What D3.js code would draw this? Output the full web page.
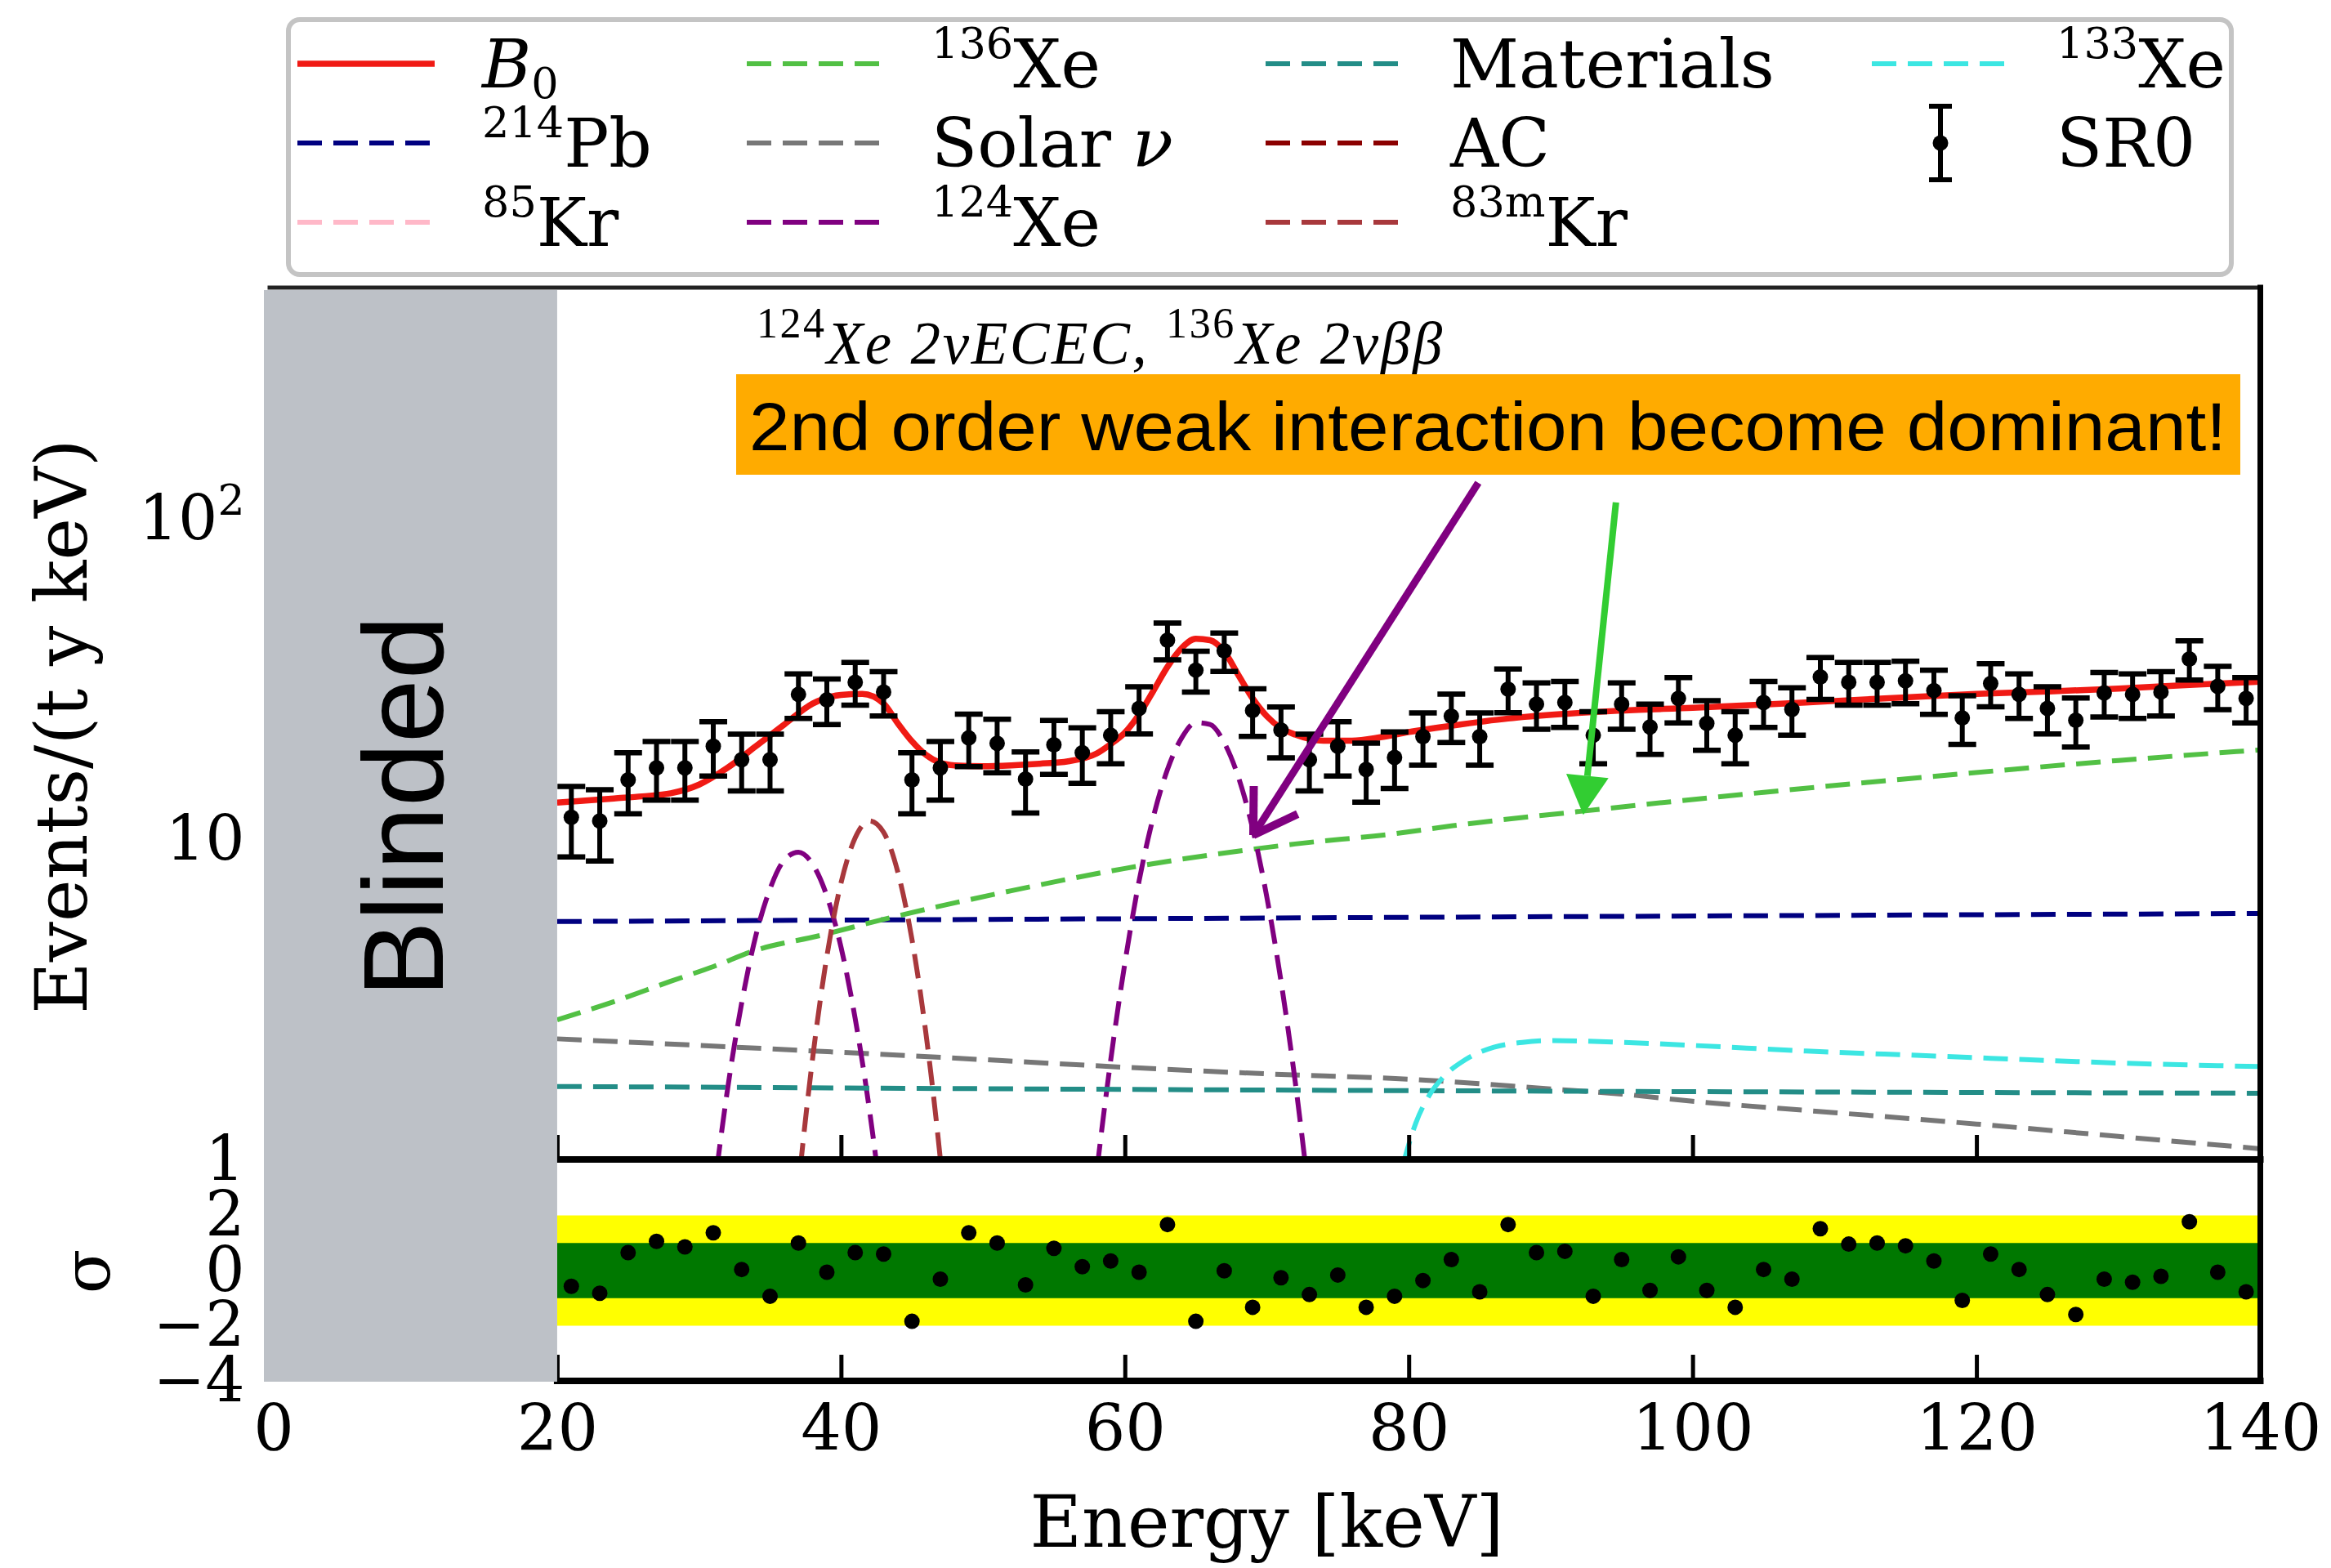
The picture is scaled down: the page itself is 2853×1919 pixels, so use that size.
<!DOCTYPE html>
<html>
<head>
<meta charset="utf-8">
<script src="https://cdnjs.cloudflare.com/ajax/libs/d3/7.8.5/d3.min.js"></script>
<style>
  body { margin: 0; background: #fff; }
  text { font-family: "DejaVu Serif", serif; fill: #000; }
</style>
</head>
<body>
<div id="chart"></div>
<script>
const width = 2853;
const height = 1919;

// SR0 spectrum, 2 keV bins
const energy = [21, 23, 25, 27, 29, 31, 33, 35, 37, 39, 41, 43, 45, 47, 49, 51, 53, 55, 57, 59,
  61, 63, 65, 67, 69, 71, 73, 75, 77, 79, 81, 83, 85, 87, 89, 91, 93, 95, 97, 99,
  101, 103, 105, 107, 109, 111, 113, 115, 117, 119, 121, 123, 125, 127, 129, 131, 133, 135, 137, 139];
const rate = [11.7, 11.4, 15.3, 16.7, 16.7, 19.5, 17.7, 17.7, 28.3, 27.2, 30.9, 28.8, 15.3, 16.7, 20.7, 19.9, 15.4, 19.7, 18.6, 21.1,
  25.6, 41.8, 33.7, 38.7, 25.2, 21.9, 17.7, 19.5, 16.5, 18.0, 20.9, 24.2, 20.9, 29.4, 26.4, 26.7, 21.1, 26.4, 22.4, 27.5,
  23.0, 21.1, 26.7, 25.4, 32.1, 30.9, 30.9, 31.2, 29.1, 23.9, 30.6, 28.3, 25.6, 23.5, 28.6, 28.3, 28.8, 36.5, 30.0, 27.5];
const rateErr = [2.9, 2.86, 3.3, 3.47, 3.47, 3.75, 3.57, 3.57, 4.5, 4.4, 4.7, 4.55, 3.3, 3.47, 3.86, 3.79, 3.33, 3.77, 3.66, 3.9,
  4.3, 5.5, 4.9, 5.3, 4.26, 3.97, 3.57, 3.75, 3.45, 3.6, 3.88, 4.17, 3.88, 4.6, 4.36, 4.38, 3.9, 4.36, 4.0, 4.45,
  4.07, 3.9, 4.38, 4.28, 4.8, 4.7, 4.7, 4.74, 4.58, 4.15, 4.7, 4.5, 4.3, 4.1, 4.54, 4.5, 4.55, 5.1, 4.65, 4.45];
const residual = [-0.57, -0.82, 0.65, 1.06, 0.86, 1.37, 0.04, -0.93, 1.0, -0.06, 0.65, 0.6, -1.84, -0.31, 1.37, 1.0, -0.52, 0.81, 0.14, 0.35,
  -0.06, 1.67, -1.84, -0.01, -1.33, -0.26, -0.87, -0.16, -1.33, -0.93, -0.36, 0.4, -0.77, 1.67, 0.65, 0.7, -0.93, 0.4, -0.72, 0.5,
  -0.72, -1.33, 0.04, -0.31, 1.52, 0.96, 1.0, 0.9, 0.35, -1.08, 0.6, 0.04, -0.87, -1.59, -0.31, -0.42, -0.21, 1.77, -0.06, -0.77];

// model curves [energy keV, rate]
const b0 = [[20, 13.0], [22, 13.2], [24, 13.4], [26, 13.6], [28, 13.9], [30, 14.8], [32, 16.7], [34, 19.5], [36, 22.8], [38, 26.5],
  [40, 28.2], [41.5, 28.4], [43, 26.5], [44, 23.0], [45, 20.2], [46, 18.3], [47, 17.3], [48, 17.0], [50, 16.9], [52, 17.0],
  [54, 17.2], [56, 17.5], [58, 18.5], [59, 19.8], [60, 21.5], [61, 24.5], [62, 29], [63, 34.5], [64, 39.5], [65, 42.2],
  [66, 41.8], [67, 38.5], [68, 32.5], [69, 27.5], [70, 24.2], [71, 22.2], [72, 21.2], [74, 20.3], [76, 20.3], [78, 20.8],
  [80, 21.6], [83, 22.6], [87, 23.8], [91, 24.6], [95, 25.2], [100, 25.7], [105, 26.3], [110, 27.0], [115, 27.7], [120, 28.4],
  [125, 28.9], [130, 29.5], [135, 30.3], [140, 31.0]];
const pb214 = [[20, 5.53], [80, 5.7], [140, 5.86]];
const kr85 = [[20, 0.7], [140, 0.72]];
const xe136 = [[20, 2.73], [24, 3.11], [28, 3.6], [31, 4.0], [34, 4.5], [38.5, 5.0], [43, 5.62], [52, 6.9], [60, 8.1], [72, 9.66],
  [79, 10.4], [83, 11.0], [92, 12.2], [105, 14.0], [119, 16.0], [130, 17.6], [140, 19.0]];
const solarNu = [[20, 2.38], [30, 2.27], [40, 2.16], [50, 2.05], [60, 1.94], [70, 1.85], [80, 1.78], [90, 1.66], [95, 1.6],
  [100, 1.52], [110, 1.4], [120, 1.29], [130, 1.18], [140, 1.08]];
const xe124 = [[29, 0.12], [30, 0.31], [31, 0.76], [32, 1.65], [33, 3.08], [34, 5.0], [35, 7.0], [36, 8.6], [37, 9.1], [38, 8.35],
  [39, 6.65], [40, 4.6], [41, 2.75], [42, 1.43], [43, 0.64], [44, 0.25],
  [56, 0.12], [57, 0.35], [58, 0.9], [59, 2.04], [60, 4.1], [61, 7.4], [62, 11.7], [63, 16.5], [64, 20.7], [65, 23.1],
  [66, 22.8], [67, 20.0], [68, 15.6], [69, 10.8], [70, 6.6], [71, 3.6], [72, 1.75], [73, 0.75], [74, 0.29]];
const materials = [[20, 1.69], [80, 1.64], [140, 1.61]];
const ac = [[20, 0.55], [140, 0.5]];
const kr83m = [[36, 0.26], [37, 0.82], [38, 2.07], [39, 4.3], [40, 7.3], [41, 10.1], [42, 11.4], [43, 10.5], [44, 7.9],
  [45, 4.86], [46, 2.44], [47, 1.0], [48, 0.33]];
const xe133 = [[79, 0.75], [79.7, 1.0], [80.5, 1.3], [81.5, 1.6], [82.5, 1.82], [84, 2.05], [86, 2.24], [88, 2.32], [90, 2.35],
  [95, 2.32], [100, 2.27], [108, 2.18], [115, 2.12], [121, 2.07], [130, 2.0], [140, 1.95]];

const xTicks = [0, 20, 40, 60, 80, 100, 120, 140];

const series = [
  { key: "b0", data: b0, color: "#f01a14", dash: null, label: [["B", "it"], ["0", "sub"]] },
  { key: "pb214", data: pb214, color: "#000080", dash: "30,14", label: [["214", "sup"], ["Pb"]] },
  { key: "kr85", data: kr85, color: "#ffb8c8", dash: "30,14", label: [["85", "sup"], ["Kr"]] },
  { key: "xe136", data: xe136, color: "#52c044", dash: "30,14", label: [["136", "sup"], ["Xe"]] },
  { key: "solar", data: solarNu, color: "#777777", dash: "30,14", label: [["Solar "], ["ν", "it"]] },
  { key: "xe124", data: xe124, color: "#800080", dash: "30,14", label: [["124", "sup"], ["Xe"]] },
  { key: "materials", data: materials, color: "#238d87", dash: "30,14", label: [["Materials"]] },
  { key: "ac", data: ac, color: "#8b0000", dash: "30,14", label: [["AC"]] },
  { key: "kr83m", data: kr83m, color: "#a8383c", dash: "30,14", label: [["83m", "sup"], ["Kr"]] },
  { key: "xe133", data: xe133, color: "#3ce6e2", dash: "30,14", label: [["133", "sup"], ["Xe"]] }
];

const svg = d3.select("#chart").append("svg")
  .attr("width", width)
  .attr("height", height)
  .attr("viewBox", `0 0 ${width} ${height}`);

const x = d3.scaleLinear().domain([0, 140]).range([334.5, 2766.5]);
const y = d3.scaleLog().domain([1, 527]).range([1419, 352]);
const yr = d3.scaleLinear().domain([-4, 4]).range([1690, 1420]);

const plotLeft = x(20), plotRight = x(140);

svg.append("clipPath").attr("id", "clipMain")
  .append("rect")
  .attr("x", plotLeft).attr("y", y.range()[1])
  .attr("width", plotRight - plotLeft).attr("height", y.range()[0] - y.range()[1]);

// residual bands
svg.append("rect")
  .attr("x", plotLeft).attr("width", plotRight - plotLeft)
  .attr("y", yr(2)).attr("height", yr(-2) - yr(2))
  .attr("fill", "#ffff00");
svg.append("rect")
  .attr("x", plotLeft).attr("width", plotRight - plotLeft)
  .attr("y", yr(1)).attr("height", yr(-1) - yr(1))
  .attr("fill", "#007800");

svg.append("g").selectAll("circle")
  .data(energy)
  .join("circle")
  .attr("cx", d => x(d))
  .attr("cy", (d, i) => yr(residual[i]))
  .attr("r", 9.5)
  .attr("fill", "#000");

// model curves
const line = d3.line()
  .x(d => x(d[0]))
  .y(d => y(d[1]))
  .curve(d3.curveMonotoneX);

const curves = svg.append("g").attr("clip-path", "url(#clipMain)");
curves.selectAll("path")
  .data(series.filter(s => s.dash).concat(series.filter(s => !s.dash)))
  .join("path")
  .attr("d", s => s.key === "xe124"
    ? line(s.data.slice(0, 16)) + line(s.data.slice(16))
    : line(s.data))
  .attr("fill", "none")
  .attr("stroke", s => s.color)
  .attr("stroke-width", s => s.dash ? 6 : 7.5)
  .attr("stroke-dasharray", s => s.dash);

// SR0 points
const pts = svg.append("g").attr("clip-path", "url(#clipMain)")
  .selectAll("g")
  .data(energy)
  .join("g");
pts.append("line")
  .attr("x1", d => x(d)).attr("x2", d => x(d))
  .attr("y1", (d, i) => y(rate[i] - rateErr[i]))
  .attr("y2", (d, i) => y(rate[i] + rateErr[i]))
  .attr("stroke", "#000").attr("stroke-width", 6);
[-1, 1].forEach(sign => {
  pts.append("line")
    .attr("x1", d => x(d) - 17).attr("x2", d => x(d) + 17)
    .attr("y1", (d, i) => y(rate[i] + sign * rateErr[i]))
    .attr("y2", (d, i) => y(rate[i] + sign * rateErr[i]))
    .attr("stroke", "#000").attr("stroke-width", 6.5);
});
pts.append("circle")
  .attr("cx", d => x(d))
  .attr("cy", (d, i) => y(rate[i]))
  .attr("r", 9.5)
  .attr("fill", "#000");

// ticks (pointing inward)
svg.append("g")
  .attr("transform", `translate(0,${y.range()[0]})`)
  .call(d3.axisBottom(x).tickValues(xTicks.slice(1)).tickSize(-30).tickFormat(""))
  .call(g => g.select(".domain").remove())
  .call(g => g.selectAll("line").attr("stroke-width", 5));

svg.append("g")
  .attr("transform", `translate(0,${yr.range()[0]})`)
  .call(d3.axisBottom(x).tickValues(xTicks).tickSize(-32).tickPadding(30))
  .call(g => g.select(".domain").remove())
  .call(g => g.selectAll("line").attr("stroke-width", 5))
  .call(g => g.selectAll("text").attr("font-size", 78).attr("font-family", "DejaVu Serif"));

svg.append("g")
  .attr("transform", `translate(${x(0)},0)`)
  .call(d3.axisLeft(y).tickValues([1, 10, 100]).tickSize(0).tickPadding(35).tickFormat(d => d === 100 ? "10" : d))
  .call(g => g.select(".domain").remove())
  .call(g => g.selectAll("text").attr("font-size", 76).attr("font-family", "DejaVu Serif"))
  .call(g => g.selectAll("text").filter(d => d === 100)
    .append("tspan").attr("dy", -30).attr("font-size", 52).text("2"));

svg.append("g")
  .attr("transform", `translate(${x(0)},0)`)
  .call(d3.axisLeft(yr).tickValues([-4, -2, 0, 2]).tickSize(0).tickPadding(35))
  .call(g => g.select(".domain").remove())
  .call(g => g.selectAll("text").attr("font-size", 76).attr("font-family", "DejaVu Serif"));

// frame
const frame = svg.append("g").attr("stroke", "#000").attr("stroke-linecap", "square");
frame.append("line").attr("x1", 330).attr("x2", plotRight).attr("y1", y.range()[1]).attr("y2", y.range()[1])
  .attr("stroke-width", 5).attr("stroke", "#222");
frame.append("line").attr("x1", plotLeft).attr("x2", plotRight).attr("y1", y.range()[0]).attr("y2", y.range()[0])
  .attr("stroke-width", 8);
frame.append("line").attr("x1", plotLeft).attr("x2", plotRight).attr("y1", yr.range()[0]).attr("y2", yr.range()[0])
  .attr("stroke-width", 8);
frame.append("line").attr("x1", plotRight).attr("x2", plotRight).attr("y1", y.range()[1]).attr("y2", yr.range()[0])
  .attr("stroke-width", 7);

// blinded region
svg.append("rect")
  .attr("x", 323).attr("y", 355)
  .attr("width", plotLeft - 323).attr("height", yr.range()[0] + 1 - 355)
  .attr("fill", "#bdc1c7");
svg.append("text")
  .attr("transform", "translate(542,987) rotate(-90)")
  .attr("text-anchor", "middle")
  .style("font-family", "'Liberation Sans', Arial, sans-serif")
  .attr("font-size", 140)
  .text("Blinded");

// axis labels
svg.append("text")
  .attr("x", x(70)).attr("y", 1893)
  .attr("text-anchor", "middle")
  .attr("font-size", 87)
  .text("Energy [keV]");
svg.append("text")
  .attr("transform", "translate(106,889) rotate(-90)")
  .attr("text-anchor", "middle")
  .attr("font-size", 87)
  .text("Events/(t y keV)");
svg.append("text")
  .attr("transform", "translate(134,1556) rotate(-90)")
  .attr("text-anchor", "middle")
  .attr("font-size", 80)
  .text("σ");

// rich text helper: sup / sub / italic pieces
function addRich(sel, parts, size, family) {
  let shift = 0;
  parts.forEach(([s, kind]) => {
    const t = sel.append("tspan").text(s);
    if (family) t.style("font-family", family);
    let target = 0;
    if (kind === "sup") { t.attr("font-size", size * 0.64); target = -size * 0.44; }
    if (kind === "sub") { t.attr("font-size", size * 0.64); target = size * 0.16; }
    if (kind === "it") t.attr("font-style", "italic");
    if (target - shift !== 0) t.attr("dy", target - shift);
    shift = target;
  });
}

// legend
const legend = svg.append("g");
legend.append("rect")
  .attr("x", 353).attr("y", 24)
  .attr("width", 2378).attr("height", 312)
  .attr("rx", 14)
  .attr("fill", "#fff")
  .attr("stroke", "#c4c4c4")
  .attr("stroke-width", 6);

const colX = [364, 914, 1549, 2291];
const rowY = [78, 175, 272];
const legendItems = series.map((s, i) => ({ ...s, col: Math.floor(i / 3), row: i % 3 }));
legendItems.push({ key: "sr0", col: 3, row: 1, label: [["SR0"]] });

const li = legend.selectAll("g.item")
  .data(legendItems)
  .join("g")
  .attr("class", "item")
  .attr("transform", d => `translate(${colX[d.col]},${rowY[d.row]})`);

li.filter(d => d.key !== "sr0").append("line")
  .attr("x1", 0).attr("x2", 168)
  .attr("stroke", d => d.color)
  .attr("stroke-width", d => d.dash ? 6 : 7.5)
  .attr("stroke-dasharray", d => d.dash);

const sr0 = li.filter(d => d.key === "sr0");
sr0.append("line").attr("x1", 84).attr("x2", 84).attr("y1", -45).attr("y2", 45)
  .attr("stroke", "#000").attr("stroke-width", 6);
sr0.selectAll("line.cap").data([-45, 45]).join("line")
  .attr("x1", 70).attr("x2", 98).attr("y1", d => d).attr("y2", d => d)
  .attr("stroke", "#000").attr("stroke-width", 6);
sr0.append("circle").attr("cx", 84).attr("r", 9.5).attr("fill", "#000");

li.append("text")
  .attr("x", 226)
  .attr("y", 29)
  .attr("font-size", 82)
  .each(function (d) { addRich(d3.select(this), d.label, 82); });

// annotations
const serifFamily = "'Liberation Serif', 'Times New Roman', serif";
const note = svg.append("text")
  .attr("x", 926).attr("y", 445)
  .style("font-family", serifFamily)
  .attr("font-size", 73)
  .attr("textLength", 839)
  .attr("lengthAdjust", "spacing");
addRich(note, [["124", "sup"], ["Xe 2νECEC,", "it"], [" "], ["136", "sup"], ["Xe 2νββ", "it"]], 73, serifFamily);
note.selectAll("tspan").filter(function () { return d3.select(this).attr("font-size"); })
  .attr("font-size", 52);

svg.append("rect")
  .attr("x", 901).attr("y", 458)
  .attr("width", 1841).attr("height", 123)
  .attr("fill", "#ffab00");
svg.append("text")
  .attr("x", 917).attr("y", 551)
  .style("font-family", "'Liberation Sans', Arial, sans-serif")
  .attr("font-size", 83)
  .attr("textLength", 1808)
  .attr("lengthAdjust", "spacingAndGlyphs")
  .text("2nd order weak interaction become dominant!");

// arrows (data coordinates)
const arrows = [
  { from: [84.9, 129.5], to: [69.05, 10.3], color: "#800080", head: "open" },
  { from: [94.6, 112.5], to: [92.3, 11.9], color: "#32cd32", head: "filled" }
];
arrows.forEach(a => {
  const x0 = x(a.from[0]), y0 = y(a.from[1]);
  const x1 = x(a.to[0]), y1 = y(a.to[1]);
  const ang = Math.atan2(y0 - y1, x0 - x1);
  const g = svg.append("g");
  if (a.head === "open") {
    g.append("line").attr("x1", x0).attr("y1", y0).attr("x2", x1).attr("y2", y1)
      .attr("stroke", a.color).attr("stroke-width", 9);
    [-0.56, 0.56].forEach(da => {
      g.append("line")
        .attr("x1", x1).attr("y1", y1)
        .attr("x2", x1 + 60 * Math.cos(ang + da))
        .attr("y2", y1 + 60 * Math.sin(ang + da))
        .attr("stroke", a.color).attr("stroke-width", 10).attr("stroke-linecap", "butt");
    });
  } else {
    const bx = x1 + 48 * Math.cos(ang), by = y1 + 48 * Math.sin(ang);
    g.append("line").attr("x1", x0).attr("y1", y0).attr("x2", bx).attr("y2", by)
      .attr("stroke", a.color).attr("stroke-width", 8);
    const px = -Math.sin(ang) * 26, py = Math.cos(ang) * 26;
    g.append("path")
      .attr("d", `M${x1},${y1}L${bx + px},${by + py}L${bx - px},${by - py}Z`)
      .attr("fill", a.color);
  }
});
</script>
</body>
</html>
